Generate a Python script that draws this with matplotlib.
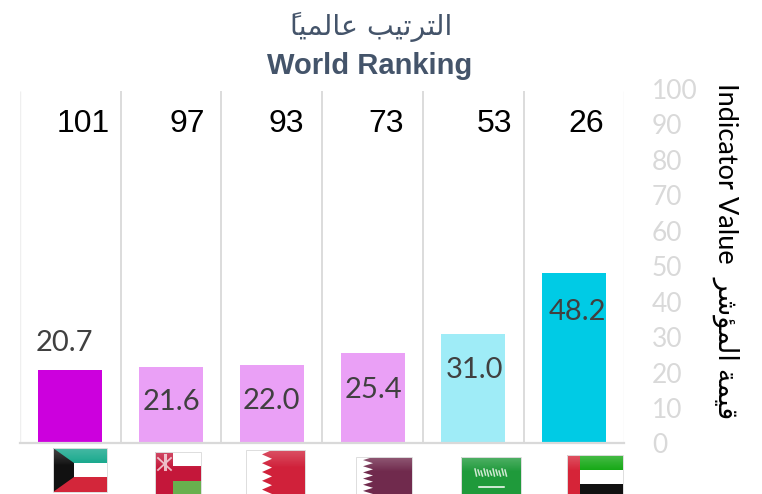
import matplotlib
matplotlib.use("Agg")
import matplotlib.pyplot as plt
from matplotlib.patches import Rectangle, Polygon
import numpy as np

values = [20.7, 21.6, 22.0, 25.4, 31.0, 48.2]
ranks = [101, 97, 93, 73, 53, 26]
bar_colors = ["#CC00DD", "#EAA0F6", "#EAA0F6", "#EAA0F6", "#9FECF7", "#00CBE5"]
y_ticks = list(range(0, 101, 10))
title_ar = "الترتيب عالمياً"
title_en = "World Ranking"
ylabel_en = "Indicator Value"
ylabel_ar = "قيمة المؤشر"

# Arabic contextual forms: isolated, final, initial, medial
FORMS = {
    "ا": (0xFE8D, 0xFE8E), "ر": (0xFEAD, 0xFEAE), "ة": (0xFE93, 0xFE94), "ؤ": (0xFE85, 0xFE86),
    "ت": (0xFE95, 0xFE96, 0xFE97, 0xFE98), "ي": (0xFEF1, 0xFEF2, 0xFEF3, 0xFEF4),
    "ب": (0xFE8F, 0xFE90, 0xFE91, 0xFE92), "ع": (0xFEC9, 0xFECA, 0xFECB, 0xFECC),
    "ل": (0xFEDD, 0xFEDE, 0xFEDF, 0xFEE0), "م": (0xFEE1, 0xFEE2, 0xFEE3, 0xFEE4),
    "ق": (0xFED5, 0xFED6, 0xFED7, 0xFED8), "ش": (0xFEB5, 0xFEB6, 0xFEB7, 0xFEB8),
}

def shape(text):
    clusters = []
    for ch in text:
        if ch == "\u064b":
            clusters[-1][1] += ch
        else:
            clusters.append([ch, ""])
    out = []
    for i, (ch, mark) in enumerate(clusters):
        if ch not in FORMS:
            out.append(mark + ch)
            continue
        prev = clusters[i - 1][0] if i else " "
        nxt = clusters[i + 1][0] if i + 1 < len(clusters) else " "
        from_prev = prev in FORMS and len(FORMS[prev]) == 4
        forms = FORMS[ch]
        to_next = nxt in FORMS and len(forms) == 4
        idx = (2 + from_prev if to_next else int(from_prev))
        out.append(mark + chr(forms[idx]))
    return "".join(reversed(out))

W, H = 762, 494
fig = plt.figure(figsize=(W / 100, H / 100), dpi=100, facecolor="white")
L, R, T, B = 20, 624.4, 89, 443.4
ax = fig.add_axes([L / W, 1 - B / H, (R - L) / W, (B - T) / H])
ax.set_xlim(0, 6)
ax.set_ylim(0, 100)
x = np.arange(len(values)) + 0.5
ax.bar(x, values, width=0.635, color=bar_colors, zorder=2)

for s in ("top", "left", "right"):
    ax.spines[s].set_visible(False)
ax.spines["bottom"].set_color("#D9D9D9")
ax.spines["bottom"].set_linewidth(1.6)
ax.spines["bottom"].set_zorder(3)
ax.vlines(range(1, 6), 0, 99.4, color="#D9D9D9", lw=1.3, zorder=1)
ax.vlines([0, 6], 0, 99.4, color="#EFEFEF", lw=1.0, zorder=1)

ax.set_xticks([])
ax.yaxis.tick_right()
ax.set_yticks(y_ticks)
ax.tick_params(axis="y", length=0, pad=19.7, labelsize=19, labelcolor="#D9D9D9")
for t in ax.get_yticklabels():
    t.set_fontfamily("Lato")

# rank labels along the top
rank_dx = [13, 16, 14, 14, 21, 12]
for xi, r, dx in zip(x, ranks, rank_dx):
    ax.annotate(str(r), (xi, 100), xytext=(dx, -35), textcoords="offset pixels",
                ha="center", va="center", fontsize=23, color="black", family="Liberation Sans")

# value labels
val_dx = [-6, 0, 0, 1, 1, 3]
val_dy = [27, -35, -36, -37, -36, -39]
for xi, v, dx, dy in zip(x, values, val_dx, val_dy):
    ax.annotate(f"{v:.1f}", (xi, v), xytext=(dx, dy), textcoords="offset pixels",
                ha="center", va="center", fontsize=21, color="#404040", family="Lato", zorder=4)

fig.text(371 / W, 1 - 27 / H, shape(title_ar), ha="center", va="center", fontsize=20.5,
         color="#44546A", family="DejaVu Sans")
fig.text(370 / W, 1 - 66 / H, title_en, ha="center", va="center", fontsize=21,
         color="#44546A", family="Liberation Sans", weight="bold")
fig.text(725.5 / W, 1 - 251 / H, ylabel_en + "  " + shape(ylabel_ar), rotation=270,
         ha="center", va="center", fontsize=19.5, color="black", family=["Lato", "DejaVu Sans"])

# overlay in pixel coordinates for the flag pictures
ov = fig.add_axes([0, 0, 1, 1], zorder=5)
ov.axis("off")

GLOSS = np.ones((32, 1, 4))
GLOSS[:, 0, 3] = np.linspace(0.22, 0.0, 32)

def rect(x0, y0, x1, y1, c):
    ov.add_patch(Rectangle((x0, y0), x1 - x0, y1 - y0, fc=c, ec="none"))

def frame(x0, y0, x1, y1):
    ov.imshow(GLOSS, extent=(x0, x1, y0 + (y1 - y0) * 0.4, y0), aspect="auto", zorder=3)
    ov.add_patch(Rectangle((x0, y0), x1 - x0, y1 - y0, fc="none", ec="#DDDDDD", lw=0.7, zorder=4))

def zigzag(xa, xb, y0, y1, n, c_x1, color):
    ys = np.linspace(y0, y1, 2 * n + 1)
    pts = [(xb if i % 2 else xa, yy) for i, yy in enumerate(ys)]
    ov.add_patch(Polygon(pts + [(c_x1, y1), (c_x1, y0)], fc=color, ec="none"))

# Kuwait
rect(53, 448, 107, 463, "#12A68A")
rect(53, 463, 107, 477, "white")
rect(53, 477, 107, 492, "#D3263A")
ov.add_patch(Polygon([(53, 448), (74, 463), (74, 477), (53, 492)], fc="#111111", ec="none"))
frame(53, 448, 107, 492)

# Oman
rect(155, 452, 201, 494, "#C4173A")
rect(173, 452, 201, 466, "white")
rect(173, 481, 201, 494, "#68B04E")
ov.plot([158, 171], [458, 470], color="#EDB9C4", lw=1.3)
ov.plot([171, 158], [458, 470], color="#EDB9C4", lw=1.3)
ov.plot([164.5, 164.5], [455, 469], color="#EDB9C4", lw=2.2)
frame(155, 452, 201, 494)

# Bahrain
rect(246, 450, 305, 494, "white")
zigzag(272, 262, 450, 494, 5, 305, "#D0213A")
frame(246, 450, 305, 494)

# Qatar
rect(356, 457, 412, 494, "white")
zigzag(373, 363, 457, 494, 6, 412, "#702A4D")
frame(356, 457, 412, 494)

# Saudi Arabia
rect(461, 457, 521, 494, "#1F9A3B")
for i, xs in enumerate(np.arange(475, 508, 3)):
    ov.plot([xs, xs + 1.5], [469 + (i % 3), 476 - (i % 2)], color="#CFE9D2", lw=1.1)
ov.plot([479, 504], [487, 487], color="white", lw=1.1)
frame(461, 457, 521, 494)

# UAE
rect(567, 455, 580, 494, "#D62438")
rect(580, 455, 623, 470, "#14A814")
rect(580, 470, 623, 484, "white")
rect(580, 484, 623, 494, "#111111")
frame(567, 455, 623, 494)

ov.set_xlim(0, W)
ov.set_ylim(H, 0)

fig.savefig("out.png", dpi=100)
